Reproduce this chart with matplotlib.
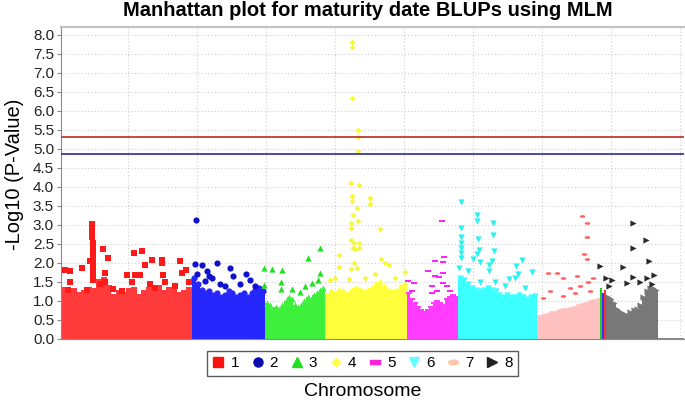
import numpy as np
import matplotlib
matplotlib.use("Agg")
import matplotlib.pyplot as plt
from matplotlib.path import Path
from matplotlib.lines import Line2D

# cumulative marker position (arbitrary units), -log10(p) values
chrom_names = ['1', '2', '3', '4', '5', '6', '7', '8']
chrom_start = [2, 133, 206, 266, 348, 399, 478, 547]
chrom_end = [133, 206, 266, 348, 399, 478, 541, 599]

# height of the dense (solid looking) mass of markers along each chromosome
band1 = [1.3, 1.2, 1.25, 1.15, 1.2, 1.3, 1.25, 1.5, 1.55, 1.35, 1.1, 1.2, 1.15, 1.25, 1.3,
         1.1, 1.2, 1.3, 1.25, 1.35, 1.2, 1.3, 1.25, 1.15, 1.2, 1.3]
band2 = [1.6, 1.45, 1.3, 1.2, 1.25, 1.15, 1.2, 1.1, 1.15, 1.25, 1.2, 1.1, 1.15, 1.2, 1.1,
         1.2, 1.3, 1.35, 1.25]
band3 = [0.95, 0.9, 0.8, 0.85, 0.8, 0.9, 1.0, 1.1, 1.05, 0.9, 0.85, 0.9, 1.0, 1.1, 1.05,
         1.15, 1.2, 1.3, 1.35]
band4 = [1.15, 1.25, 1.2, 1.3, 1.25, 1.2, 1.3, 1.35, 1.3, 1.25, 1.3, 1.35, 1.45, 1.5, 1.4,
         1.3, 1.25, 1.3, 1.4, 1.45]
band5 = [1.2, 1.05, 0.95, 0.85, 0.75, 0.7, 0.75, 0.85, 0.95, 1.0, 0.95, 0.9, 1.05, 1.1,
         1.15, 1.1]
band6 = [1.6, 1.55, 1.45, 1.35, 1.3, 1.25, 1.3, 1.35, 1.3, 1.25, 1.15, 1.1, 1.15, 1.1, 1.1,
         1.15, 1.1, 1.05, 1.1, 1.12]
band7 = [0.6, 0.62, 0.65, 0.7, 0.72, 0.75, 0.8, 0.78, 0.82, 0.85, 0.9, 0.92, 0.95, 1.0,
         1.02, 1.05]
band8 = [1.1, 1.05, 0.95, 0.8, 0.7, 0.65, 0.62, 0.7, 0.75, 0.8, 0.9, 1.1, 1.25, 1.35,
         1.35, 1.3]

# individual markers standing out above the mass
chr1_x = [33, 33, 33, 33, 34, 34, 34, 34, 34, 34, 34, 34, 34, 31, 44, 49, 23, 6, 11, 11,
          46, 46, 75, 83, 86, 93, 76, 68, 81, 103, 103, 104, 121, 123, 127, 130, 73, 54,
          63, 28, 9, 41, 91, 106, 116, 96]
chr1_y = [3.03, 2.93, 2.8, 2.67, 2.53, 2.4, 2.27, 2.14, 2.06, 1.93, 1.8, 1.66, 1.55, 2.06,
          2.37, 2.14, 1.87, 1.82, 1.8, 1.5, 1.74, 1.5, 2.27, 2.3, 1.95, 2.08, 1.69, 1.69,
          1.69, 2.08, 2.0, 1.69, 2.06, 1.74, 1.82, 1.5, 1.5, 1.32, 1.25, 1.3, 1.3, 1.45,
          1.45, 1.5, 1.4, 1.35]
chr2_x = [137, 136, 143, 158, 171, 187, 174, 148, 150, 153, 191, 146, 161, 181, 138, 196, 166]
chr2_y = [3.14, 1.98, 1.95, 2.0, 1.87, 1.72, 1.66, 1.8, 1.66, 1.6, 1.56, 1.53, 1.45, 1.45,
          1.7, 1.4, 1.4]
chr3_x = [205, 213, 223, 249, 261, 261, 205, 222, 222, 233, 241, 253, 259, 246]
chr3_y = [1.87, 1.85, 1.82, 2.14, 2.4, 1.74, 1.42, 1.5, 1.32, 1.32, 1.24, 1.48, 1.55, 1.4]
chr4_x = [293, 293, 293, 299, 299, 299, 292, 300, 293, 293, 311, 311, 298, 294, 299, 292,
          292, 321, 292, 295, 300, 294, 300, 296, 280, 322, 326, 330, 295, 298, 280, 346,
          292, 316, 290, 276, 306, 336, 271]
chr4_y = [7.81, 7.68, 6.33, 5.49, 5.3, 4.93, 4.09, 4.06, 3.77, 3.64, 3.7, 3.54, 3.43, 3.25,
          3.11, 3.06, 2.93, 2.9, 2.59, 2.53, 2.53, 2.4, 2.4, 2.37, 2.22, 2.11, 2.0, 1.95,
          2.0, 1.87, 1.9, 1.77, 1.85, 1.72, 1.58, 1.6, 1.6, 1.6, 1.55]
chr5_x = [383, 385, 376, 384, 369, 384, 376, 380, 373, 384, 349, 355, 388, 353, 373, 378, 391]
chr5_y = [3.09, 2.16, 2.06, 2.03, 1.8, 1.74, 1.66, 1.64, 1.4, 1.48, 1.53, 1.48, 1.4, 1.27,
          1.21, 1.27, 1.27]
chr6_x = [402, 418, 418, 434, 402, 434, 402, 419, 402, 402, 402, 402, 420, 418, 435, 414,
          421, 433, 430, 463, 473, 457, 459, 400, 409, 430, 456, 450, 421, 436, 446, 466]
chr6_y = [3.61, 3.27, 3.11, 3.06, 2.93, 2.74, 2.67, 2.64, 2.53, 2.4, 2.27, 2.14, 2.35, 2.24,
          2.32, 2.11, 2.03, 2.06, 1.95, 2.08, 1.77, 1.93, 1.72, 1.87, 1.8, 1.8, 1.61, 1.58,
          1.5, 1.5, 1.4, 1.35]
chr7_x = [523, 528, 528, 525, 528, 489, 498, 518, 504, 534, 529, 491, 511, 521, 484, 504, 516, 531]
chr7_y = [3.22, 3.06, 2.69, 2.24, 2.11, 1.74, 1.74, 1.66, 1.61, 1.61, 1.5, 1.27, 1.35, 1.4,
          1.08, 1.13, 1.2, 1.25]
chr8_x = [574, 587, 574, 590, 541, 564, 595, 588, 574, 550, 568, 547, 553, 581, 593]
chr8_y = [3.06, 2.61, 2.4, 2.06, 1.93, 1.9, 1.69, 1.61, 1.64, 1.4, 1.48, 1.6, 1.55, 1.5, 1.45]

# unassigned scaffolds between chr 7 and chr 8, and tail after chr 8
mixed_edges = [541, 543, 545, 547]
mixed_height = [1.35, 1.2, 1.3]
tail_edges = [599, 625]
tail_height = [0.03]

bonferroni = 5.30
fdr_line = 4.85

bands = [band1, band2, band3, band4, band5, band6, band7, band8]
pts_x = [chr1_x, chr2_x, chr3_x, chr4_x, chr5_x, chr6_x, chr7_x, chr8_x]
pts_y = [chr1_y, chr2_y, chr3_y, chr4_y, chr5_y, chr6_y, chr7_y, chr8_y]

band_colors = ['#ff3a3a', '#2626ff', '#3cf03c', '#ffff3c', '#ff3cff', '#3cffff', '#ffc0c0', '#787878']
point_colors = ['#ff1a1a', '#1010d0', '#22e022', '#f8f83a', '#ff22ff', '#2af2f2', '#ff6464', '#2a2a2a']
legend_colors = ['#ff1010', '#0a0ab0', '#22dd22', '#ffff44', '#ff22dd', '#66ffff', '#ffc8a8', '#222222']

rect = Path([(-1, -0.42), (1, -0.42), (1, 0.42), (-1, 0.42), (-1, -0.42)], closed=True)
tt = np.linspace(0, 2 * np.pi, 32)
oval = Path(np.column_stack([np.cos(tt), 0.5 * np.sin(tt)]), closed=True)
markers = ['s', 'o', '^', 'D', rect, 'v', oval, '>']
sizes = [17, 20, 20, 9, 16, 20, 16, 20]

fig = plt.figure(figsize=(6.85, 4.01), dpi=100)
ax = fig.add_axes([61 / 685, 62 / 401, 623 / 685, 312 / 401])

for i in range(8):
    edges = np.linspace(chrom_start[i], chrom_end[i], len(bands[i]) + 1)
    ax.stairs(bands[i], edges, fill=True, color=band_colors[i], zorder=2)
    mids = (edges[:-1] + edges[1:]) / 2
    ax.scatter(mids, bands[i], s=sizes[i], marker=markers[i], color=band_colors[i],
               linewidths=0, zorder=2)
    ax.scatter(pts_x[i], pts_y[i], s=sizes[i], marker=markers[i], color=point_colors[i],
               linewidths=0, zorder=3)

for j, c in enumerate(['#22cc22', '#3030ff', '#ff3030']):
    ax.stairs([mixed_height[j]], mixed_edges[j:j + 2], fill=True, color=c, zorder=2)
ax.stairs(tail_height, tail_edges, fill=True, color='#8a8a8a', zorder=2)

ax.axhline(bonferroni, color='#c03838', lw=1.3, zorder=4)
ax.axhline(fdr_line, color='#3a3aa8', lw=1.3, zorder=4)

ax.set_xlim(2, 625)
ax.set_ylim(0, 8.2)
ax.set_xticks(np.arange(69, 625, 69))
ax.set_xticklabels([])
ax.set_yticks(np.arange(0, 8.01, 0.5))
ax.set_yticklabels(['%.1f' % v for v in np.arange(0, 8.01, 0.5)],
                   fontfamily='Liberation Sans', fontsize=11, color='#222222')
ax.tick_params(axis='x', length=0)
ax.tick_params(axis='y', length=3, width=0.8, color='#888888', pad=2)
ax.grid(True, ls=(0, (1, 2)), color='#cfcfcf', lw=0.8, zorder=0)
ax.set_axisbelow(True)
ax.spines['right'].set_visible(False)
ax.spines['left'].set_color('#8a8a8a')
ax.spines['bottom'].set_color('#8a8a8a')
ax.spines['top'].set_color('#c4c4c4')
ax.spines['top'].set_linewidth(1.6)

handles = [Line2D([], [], ls='none', marker=markers[i], color=legend_colors[i],
                  markersize=[6.5, 6.5, 6.5, 4, 7, 6.5, 7, 6.5][i]) for i in range(8)]
leg = fig.legend(handles, chrom_names, loc='upper left', bbox_to_anchor=(207 / 685, 1 - 351 / 401),
                 borderaxespad=0, ncol=8, frameon=True, fancybox=False, handlelength=0.8,
                 handletextpad=0.4, columnspacing=0.8, borderpad=0.35,
                 prop={'family': 'Liberation Sans', 'size': 11})
leg.get_frame().set_edgecolor('#333333')
leg.get_frame().set_linewidth(1.0)

fig.text(368 / 685, 1 - 11 / 401, 'Manhattan plot for maturity date BLUPs using MLM',
         ha='center', va='center', fontsize=14.5, fontweight='bold', family='Liberation Sans')
fig.text(15 / 685, 1 - 174 / 401, '-Log10 (P-Value)', rotation=90, ha='center', va='center',
         fontsize=14.5, family='Liberation Sans')
fig.text(363 / 685, 1 - 392 / 401, 'Chromosome', ha='center', va='center',
         fontsize=14, family='Liberation Sans')

fig.savefig('out.png', dpi=100)
